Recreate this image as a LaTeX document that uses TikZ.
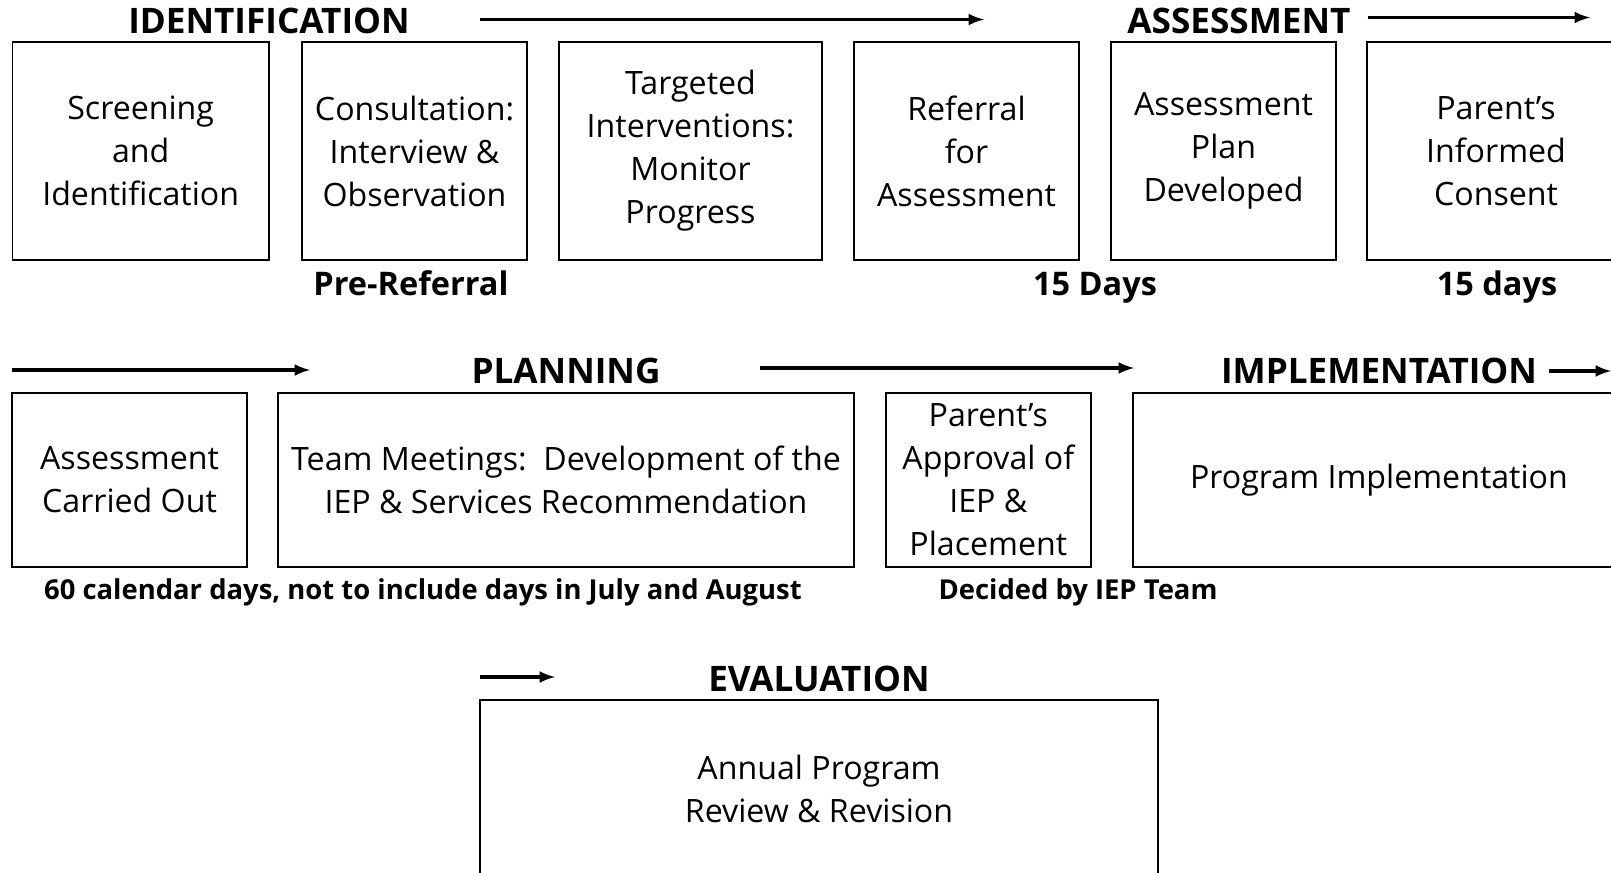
\documentclass[tikz,border=0pt]{standalone}
\usepackage{fontspec}
\setmainfont{Open Sans}
\usetikzlibrary{arrows,positioning}
\newcommand{\boxfont}{\fontsize{18.3}{24.5}\selectfont}
\newcommand{\phasefont}{\fontsize{20}{22}\selectfont\bfseries}
\newcommand{\timefont}{\fontsize{18.5}{21}\selectfont\bfseries}
\newcommand{\notefont}{\fontsize{15.6}{18}\selectfont\bfseries}
\tikzset{
  stage/.style = {draw, line width=1.1pt, rectangle, align=center,
                  inner sep=0pt},
  row1/.style  = {stage, minimum height=4.36cm},
  row2/.style  = {stage, minimum height=3.49cm},
  phase/.style = {font=\phasefont, inner sep=0pt},
  timing/.style = {font=\timefont, inner sep=0pt, anchor=base},
  note/.style  = {font=\notefont, inner sep=0pt, anchor=base},
  flow/.style  = {->, line width=2pt}
}

\begin{document}
\begin{tikzpicture}[x=0.02cm, y=-0.02cm, >=latex, every node/.append style={font=\boxfont}]
\clip (0,0) rectangle (1611,872);

% first row: identification and assessment
\node[phase] (ident) at (269,20.5) {IDENTIFICATION};
\node[phase] (assess) at (1239,20.5) {ASSESSMENT};
\coordinate (f1a) at (480,19.5);
\coordinate (f1b) at (984,19.5);
\coordinate (f2a) at (1367.5,17.5);
\coordinate (f2b) at (1590,17.5);

\node[row1, minimum width=5.13cm] (s1) at (140.7,151) {Screening\\and\\Identification};
\node[row1, minimum width=4.5cm]  (s2) at (414.5,151) {Consultation:\\Interview \&\\Observation};
\node[row1, minimum width=5.26cm] (s3) at (690.5,151) {Targeted\\Interventions:\\Monitor\\Progress};
\node[row1, minimum width=4.5cm]  (s4) at (966.5,151) {Referral\\for\\Assessment};
\node[row1, minimum width=4.5cm]  (s5) at (1223.5,151) {Assessment\\Plan\\Developed};
\node[row1, minimum width=5.15cm] (s6) at (1496,151) {Parent’s\\Informed\\Consent};

\node[timing] (prereferral) at (411,295.5) {Pre-Referral};
\node[timing] (days1) at (1095,295.5) {15 Days};
\node[timing] (days2) at (1497,295.5) {15 days};

% second row: planning and implementation
\node[phase] (plan) at (566,371) {PLANNING};
\node[phase] (impl) at (1379,371) {IMPLEMENTATION};
\coordinate (f3a) at (12.3,370);
\coordinate (f3b) at (310,370);
\coordinate (f4a) at (760,368);
\coordinate (f4b) at (1134,368);
\coordinate (f5a) at (1549,371);
\coordinate (f5b) at (1611,371);

\node[row2, minimum width=4.69cm]  (p1) at (129.5,480) {Assessment\\Carried Out};
\node[row2, minimum width=11.52cm] (p2) at (566,480) {Team Meetings:\ \ Development of the\\IEP \& Services Recommendation};
\node[row2, minimum width=4.11cm]  (p3) at (988.3,480) {Parent’s\\Approval of\\IEP \&\\Placement};
\node[row2, minimum width=9.84cm]  (p4) at (1379,480) {Program Implementation};

\node[note] (calendar) at (423,599) {60 calendar days, not to include days in July and August};
\node[note] (decided) at (1078,599) {Decided by IEP Team};

% third row: evaluation
\node[phase] (eval) at (819,679) {EVALUATION};
\coordinate (f6a) at (480,677);
\coordinate (f6b) at (555,677);
\node[stage, minimum width=13.56cm, minimum height=3.56cm] (e1) at (819,789) {Annual Program\\Review \& Revision};

% arrows along the phases
\foreach \f in {1,...,6}
  \draw[flow] (f\f a) -- (f\f b);
\end{tikzpicture}
\end{document}
